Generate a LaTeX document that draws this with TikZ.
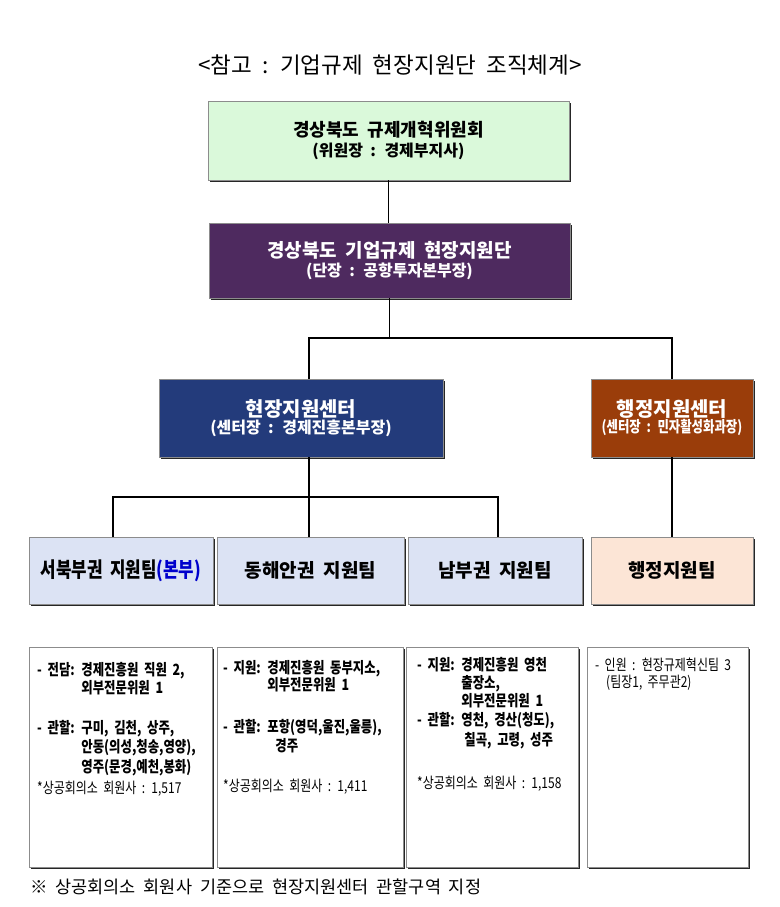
\documentclass[tikz,border=0pt]{standalone}
\usepackage{fontspec}
\setmainfont{Noto Sans CJK KR}[WordSpace=2]
\newfontfamily\krnarrow{Noto Sans CJK KR}[FakeStretch=0.8,WordSpace=2]
\usetikzlibrary{shadows}

\definecolor{cmtegreen}{HTML}{DAF9DA}
\definecolor{tfpurple}{HTML}{4E2A5F}
\definecolor{fscnavy}{HTML}{233B7B}
\definecolor{ascbrown}{HTML}{9A3D0A}
\definecolor{teamblue}{HTML}{DCE3F4}
\definecolor{teampeach}{HTML}{FCE5D6}
\definecolor{bossblue}{HTML}{0000CC}

\begin{document}
\begin{tikzpicture}[x=1pt,y=-1pt,
   box/.style={draw=black!45,line width=.6pt,inner sep=0pt,align=center,
      drop shadow={shadow xshift=1.6pt,shadow yshift=-1.6pt,fill=black!85,opacity=1}},
   team/.style={box,fill=teamblue,minimum height=67,font=\bfseries\fontsize{19}{22}\selectfont},
   info/.style={box,fill=white,minimum height=220},
   detail/.style={anchor=base west,inner sep=0pt,font=\krnarrow\bfseries\fontsize{15.5}{18}\selectfont},
   note/.style={anchor=base west,inner sep=0pt,font=\krnarrow\fontsize{15}{17}\selectfont},
   link/.style={line width=1.6pt,black}]
   \useasboundingbox (0,0) rectangle (779,907);

   \node[anchor=base,font=\fontsize{22.5}{26}\selectfont] (title) at (390,74)
      {<참고 : 기업규제 현장지원단 조직체계>};

   % upper part
   \node[box,fill=cmtegreen,minimum width=361,minimum height=79] (cmte) at (388.5,140.5)
      {{\bfseries\fontsize{18}{26}\selectfont 경상북도 규제개혁위원회}\\[4pt]
       {\bfseries\fontsize{16}{26}\selectfont (위원장 : 경제부지사)}};
   \node[box,fill=tfpurple,text=white,minimum width=361,minimum height=75] (tf) at (389.5,260.5)
      {{\bfseries\fontsize{19}{25}\selectfont 경상북도 기업규제 현장지원단}\\[3pt]
       {\bfseries\fontsize{16}{25}\selectfont (단장 : 공항투자본부장)}};
   \node[box,fill=fscnavy,text=white,minimum width=284,minimum height=78] (fsc) at (301,418)
      {{\bfseries\fontsize{20}{20}\selectfont 현장지원센터}\\
       {\bfseries\fontsize{16}{20}\selectfont (센터장 : 경제진흥본부장)}};
   \node[box,fill=ascbrown,text=white,minimum width=162,minimum height=78] (asc) at (672,418)
      {{\bfseries\fontsize{20}{20}\selectfont 행정지원센터}\\
       {\krnarrow\bfseries\fontsize{15.5}{20}\selectfont (센터장 : 민자활성화과장)}};

   % teams
   \node[team,minimum width=184] (teamA) at (121,570.5)
      {{\krnarrow\fontsize{21}{22}\selectfont 서북부권 지원팀\textcolor{bossblue}{(본부)}}};
   \node[team,minimum width=187] (teamB) at (310.5,570.5) {동해안권 지원팀};
   \node[team,minimum width=174] (teamC) at (495,570.5) {남부권 지원팀};
   \node[team,fill=teampeach,minimum width=162] (teamD) at (672,570.5) {행정지원팀};

   \coordinate (busA) at (390,338);
   \coordinate (busB) at (309,497);
   \draw[link] (cmte.south) -- (cmte.south |- tf.north);
   \draw[link] (tf.south) -- (tf.south |- busA);
   \draw[link] ([xshift=8pt]fsc.north) |- (busA) -| (asc.north);
   \draw[link] ([xshift=8pt]fsc.south) -- ([xshift=8pt]fsc.south |- teamB.north);
   \draw[link] ([xshift=-8pt]teamA.north) |- (busB) -| ([xshift=3pt]teamC.north);
   \draw[link] (asc.south) -- (teamD.north);

   % details
   \node[info,minimum width=183] (infoA) at (120.5,757) {};
   \node[info,minimum width=186] (infoB) at (310,757) {};
   \node[info,minimum width=172] (infoC) at (492,757) {};
   \node[info,minimum width=161] (infoD) at (667.5,757) {};

   \node[detail,font=\krnarrow\bfseries\fontsize{15.5}{17}\selectfont] (a1) at (37,675)
      {\begin{tabular}[t]{@{}l@{ }l@{}}
      - 전담: & 경제진흥원 직원 2,\\ & 외부전문위원 1\end{tabular}};
   \node[detail,font=\krnarrow\bfseries\fontsize{15.5}{19.5}\selectfont] (a2) at (37,733)
      {\begin{tabular}[t]{@{}l@{ }l@{}}
      - 관할: & 구미, 김천, 상주,\\ & 안동(의성,청송,영양),\\ & 영주(문경,예천,봉화)\end{tabular}};
   \node[note] (a3) at (37,793) {*상공회의소 회원사 : 1,517};

   \node[detail,font=\krnarrow\bfseries\fontsize{15.5}{16}\selectfont] (b1) at (223,673)
      {\begin{tabular}[t]{@{}l@{ }l@{}}
      - 지원: & 경제진흥원 동부지소,\\ & 외부전문위원 1\end{tabular}};
   \node[detail,font=\krnarrow\bfseries\fontsize{15.5}{19}\selectfont] (b2) at (223,732)
      {\begin{tabular}[t]{@{}l@{ }l@{}}
      - 관할: & 포항(영덕,울진,울릉),\\ & \hspace*{8pt}경주\end{tabular}};
   \node[note] (b3) at (223,791) {*상공회의소 회원사 : 1,411};

   \node[detail,font=\krnarrow\bfseries\fontsize{15.5}{17.5}\selectfont] (c1) at (417,670)
      {\begin{tabular}[t]{@{}l@{ }l@{}}
      - 지원: & 경제진흥원 영천\\ & 출장소,\\ & 외부전문위원 1\end{tabular}};
   \node[detail,font=\krnarrow\bfseries\fontsize{15.5}{20}\selectfont] (c2) at (417,725)
      {\begin{tabular}[t]{@{}l@{ }l@{}}
      - 관할: & 영천, 경산(청도),\\ & \hspace*{3pt}칠곡, 고령, 성주\end{tabular}};
   \node[note] (c3) at (417,788) {*상공회의소 회원사 : 1,158};

   \node[note] (d1) at (595,670) {\begin{tabular}[t]{@{}l@{}}
      - 인원 : 현장규제혁신팀 3\\ \hspace*{11pt}(팀장1, 주무관2)\end{tabular}};

   \node[anchor=base west,inner sep=0pt,font=\fontsize{17.5}{20}\selectfont] (foot) at (30,893)
      {※ 상공회의소 회원사 기준으로 현장지원센터 관할구역 지정};
\end{tikzpicture}
\end{document}
